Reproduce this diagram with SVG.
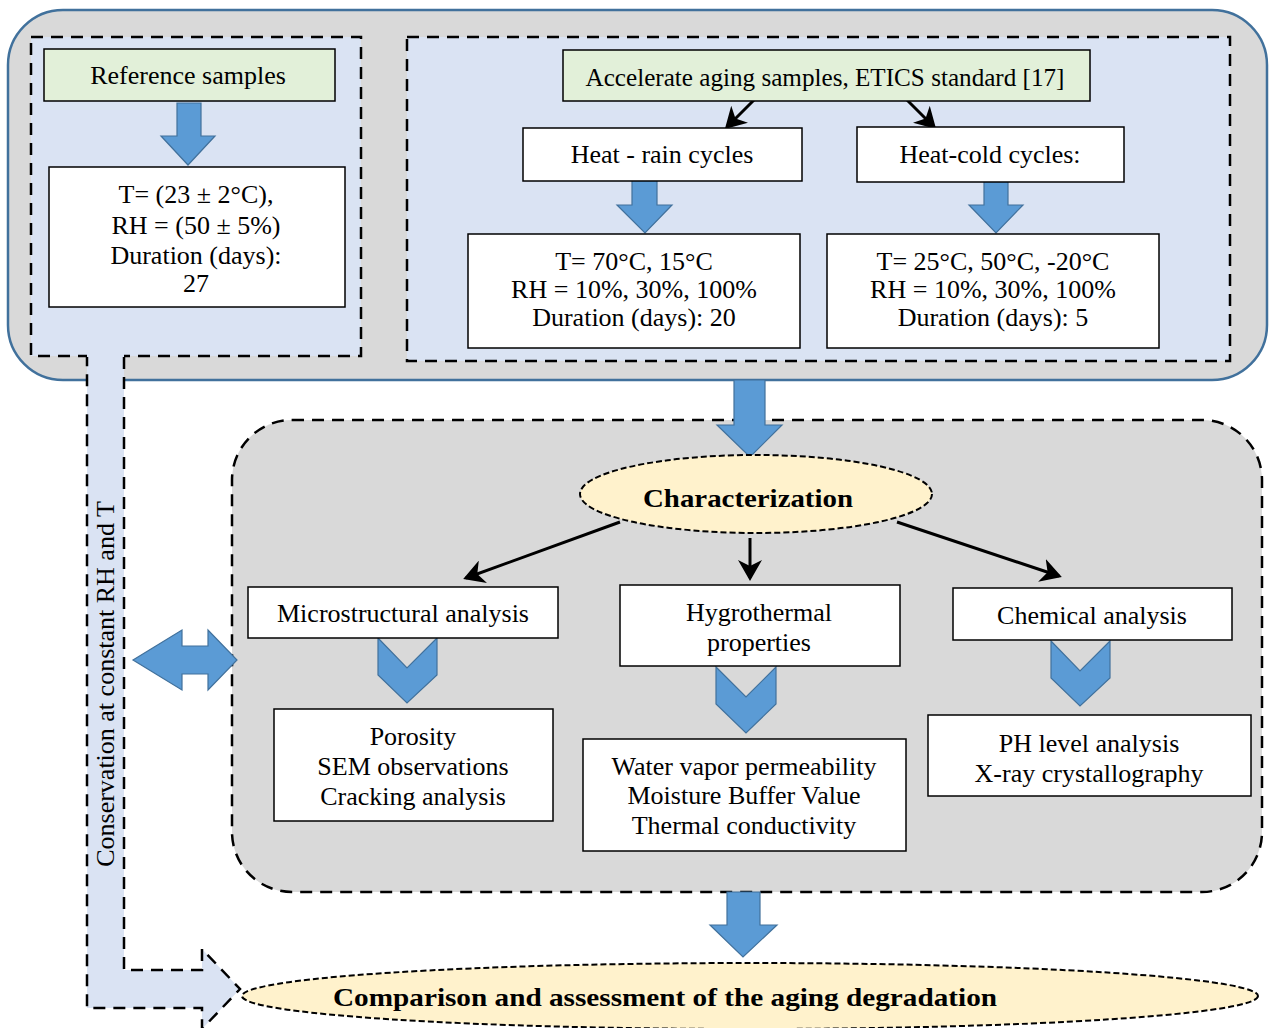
<svg xmlns="http://www.w3.org/2000/svg" width="1270" height="1028" viewBox="0 0 1270 1028">
<defs>
<style>
.t{font-family:"Liberation Serif","Times New Roman",serif;font-size:26px;fill:#000;text-anchor:middle}
.b{font-weight:bold}
.box{fill:#fff;stroke:#000;stroke-width:1.5}
.grn{fill:#e2f0d9;stroke:#000;stroke-width:1.5}
.dash{fill:#dae3f3;stroke:#000;stroke-width:2.5;stroke-dasharray:12 8}
.blue{fill:#5b9bd5;stroke:#41719c;stroke-width:1.2}
.ell{fill:#fff2cc;stroke:#000;stroke-width:2;stroke-dasharray:6 3}
.con{stroke:#000;stroke-width:3;fill:none;marker-end:url(#ah)}
</style>
<marker id="ah" markerWidth="8" markerHeight="8" refX="6" refY="4" orient="auto" markerUnits="strokeWidth">
<path d="M0,0 L7,4 L0,8 L2,4 Z" fill="#000"/>
</marker>
</defs>
<rect width="1270" height="1028" fill="#fff"/>

<g id="top-container">
<rect x="8" y="10" width="1259" height="370" rx="55" fill="#d9d9d9" stroke="#41719c" stroke-width="2.5"/>
<rect class="dash" x="31" y="37" width="330" height="319"/>
<rect class="dash" x="407" y="37" width="823" height="324"/>
</g>

<g id="bottom-container">
<rect x="232" y="420" width="1030" height="472" rx="60" fill="#d9d9d9" stroke="#000" stroke-width="2.5" stroke-dasharray="12 8"/>
</g>

<g id="conservation">
<path d="M87,354 L124,354 L124,970 L202,970 L202,949 L240,989 L202,1029 L202,1008 L87,1008 Z" fill="#dae3f3"/>
<path d="M124,357 L124,970 L202,970 L202,949 L240,989 L202,1029 L202,1008 L87,1008 L87,357" fill="none" stroke="#000" stroke-width="2.5" stroke-dasharray="12 8"/>
<text class="t" transform="translate(114,684) rotate(-90)">Conservation at constant RH and T</text>
</g>

<g id="connectors">
<path class="blue" d="M177,103 L201,103 L201,136 L215,136 L188,165 L161,136 L177,136 Z"/>
<path class="blue" d="M632,172 L657,172 L657,205 L672,205 L645,233 L617,205 L632,205 Z"/>
<path class="blue" d="M984,173 L1008,173 L1008,205 L1023,205 L996,233 L969,205 L984,205 Z"/>
<path class="blue" d="M734,380 L765,380 L765,425 L782,425 L750,457 L717,425 L734,425 Z"/>
<path class="blue" d="M727,892 L760,892 L760,925 L777,925 L743,957 L710,925 L727,925 Z"/>
<path class="blue" d="M133,660 L182,630 L182,646 L208,646 L208,630 L237,660 L208,690 L208,674 L182,674 L182,690 Z"/>
<path class="blue" d="M378,638 L407,668 L437,638 L437,675 L407,703 L378,675 Z"/>
<path class="blue" d="M716,667 L746,697 L776,667 L776,704 L746,733 L716,704 Z"/>
<path class="blue" d="M1051,641 L1080,671 L1110,641 L1110,678 L1080,706 L1051,678 Z"/>
<line class="con" x1="754" y1="100" x2="727" y2="127"/>
<line class="con" x1="905" y1="98" x2="934" y2="127"/>
<line class="con" x1="620" y1="522" x2="466" y2="578"/>
<line class="con" x1="750" y1="538" x2="750" y2="578"/>
<line class="con" x1="897" y1="522" x2="1059" y2="576"/>
</g>

<g id="reference-samples">
<rect class="grn" x="44" y="49" width="291" height="52"/>
<text class="t" x="188" y="84">Reference samples</text>
</g>
<g id="reference-conditions">
<rect class="box" x="49" y="167" width="296" height="140"/>
<text class="t" x="196" y="203">T= (23 ± 2°C),</text>
<text class="t" x="196" y="234">RH = (50 ± 5%)</text>
<text class="t" x="196" y="264">Duration (days):</text>
<text class="t" x="196" y="292">27</text>
</g>
<g id="accelerate">
<rect class="grn" x="563" y="50" width="527" height="51"/>
<text class="t" x="825" y="86" textLength="479" lengthAdjust="spacingAndGlyphs">Accelerate aging samples, ETICS standard [17]</text>
</g>
<g id="heat-rain">
<rect class="box" x="523" y="128" width="279" height="53"/>
<text class="t" x="662" y="163">Heat - rain cycles</text>
</g>
<g id="heat-cold">
<rect class="box" x="857" y="127" width="267" height="55"/>
<text class="t" x="990" y="163">Heat-cold cycles:</text>
</g>
<g id="heat-rain-conditions">
<rect class="box" x="468" y="234" width="332" height="114"/>
<text class="t" x="634" y="270">T= 70°C, 15°C</text>
<text class="t" x="634" y="298">RH = 10%, 30%, 100%</text>
<text class="t" x="634" y="326">Duration (days): 20</text>
</g>
<g id="heat-cold-conditions">
<rect class="box" x="827" y="234" width="332" height="114"/>
<text class="t" x="993" y="270">T= 25°C, 50°C, -20°C</text>
<text class="t" x="993" y="298">RH = 10%, 30%, 100%</text>
<text class="t" x="993" y="326">Duration (days): 5</text>
</g>

<g id="characterization">
<ellipse class="ell" cx="756" cy="494" rx="176" ry="39"/>
<text class="t b" x="748" y="507" font-size="29" textLength="210" lengthAdjust="spacingAndGlyphs">Characterization</text>
</g>
<g id="microstructural">
<rect class="box" x="248" y="587" width="310" height="51"/>
<text class="t" x="403" y="622">Microstructural analysis</text>
</g>
<g id="hygrothermal">
<rect class="box" x="620" y="585" width="280" height="81"/>
<text class="t" x="759" y="621">Hygrothermal</text>
<text class="t" x="759" y="651">properties</text>
</g>
<g id="chemical">
<rect class="box" x="953" y="588" width="279" height="52"/>
<text class="t" x="1092" y="624">Chemical analysis</text>
</g>
<g id="micro-results">
<rect class="box" x="274" y="709" width="279" height="112"/>
<text class="t" x="413" y="745">Porosity</text>
<text class="t" x="413" y="775">SEM observations</text>
<text class="t" x="413" y="805">Cracking analysis</text>
</g>
<g id="hygro-results">
<rect class="box" x="583" y="739" width="323" height="112"/>
<text class="t" x="744" y="775">Water vapor permeability</text>
<text class="t" x="744" y="804">Moisture Buffer Value</text>
<text class="t" x="744" y="834">Thermal conductivity</text>
</g>
<g id="chemical-results">
<rect class="box" x="928" y="715" width="323" height="81"/>
<text class="t" x="1089" y="752">PH level analysis</text>
<text class="t" x="1089" y="782">X-ray crystallography</text>
</g>

<g id="comparison">
<ellipse class="ell" cx="750" cy="996" rx="508" ry="33"/>
<text class="t b" x="665" y="1006" font-size="28" textLength="664" lengthAdjust="spacingAndGlyphs">Comparison and assessment of the aging degradation</text>
</g>
</svg>
